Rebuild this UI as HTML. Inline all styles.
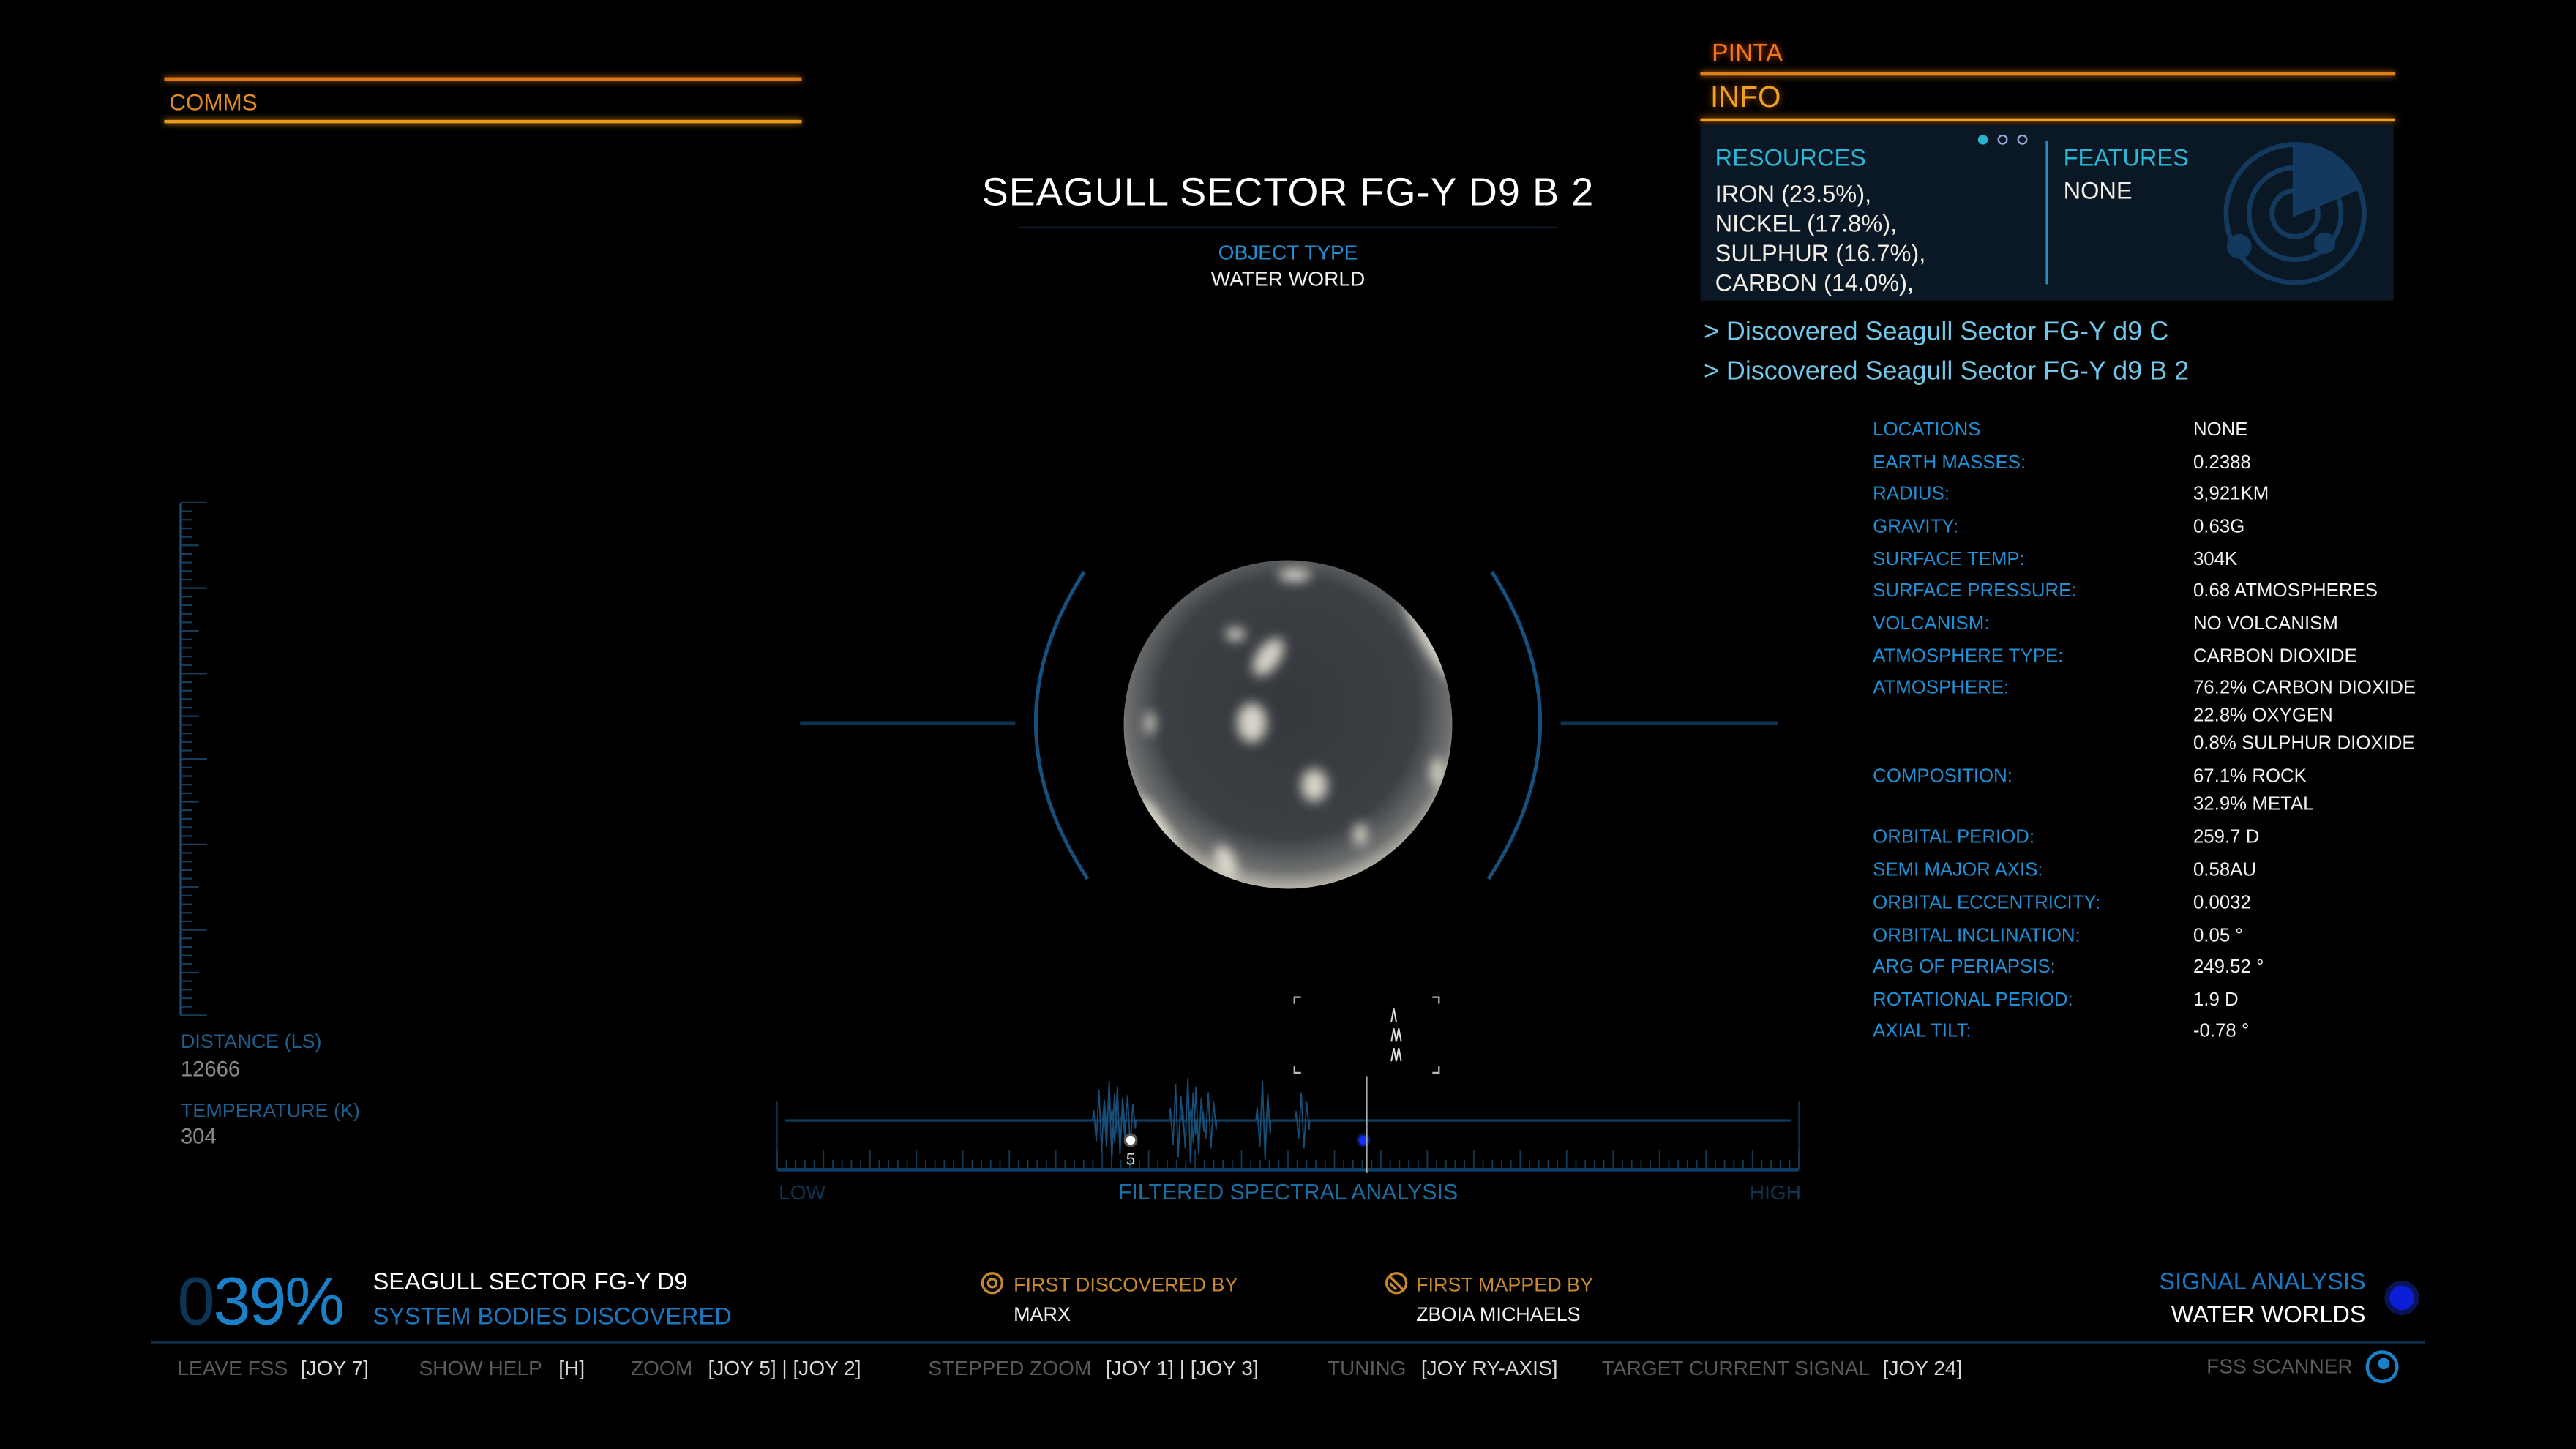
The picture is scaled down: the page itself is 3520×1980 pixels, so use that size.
<!DOCTYPE html>
<html><head><meta charset="utf-8">
<style>
html,body{margin:0;padding:0;background:#000;width:3520px;height:1980px;overflow:hidden}
#root{position:absolute;left:0;top:0;width:1568px;height:882px;transform:scale(2.2449);transform-origin:0 0;font-family:"Liberation Sans Narrow","Liberation Sans",sans-serif;color:#fff}
.t{position:absolute;white-space:nowrap;line-height:1}
.lbl{color:#1f8fd6;font-size:11.5px}
.val{color:#f2f2f2;font-size:11.5px}
.fk{color:#5a5a5a;font-size:12.5px}
.fv{color:#d8d8d8;font-size:12.5px}
</style></head><body>
<div id="root">
<!-- COMMS -->
<div>
<div style="position:absolute;left:100px;top:47px;width:388px;height:2px;background:#d9761a;box-shadow:0 0 4px #d9761a"></div>
<div class="t" style="left:103px;top:55px;font-size:14px;color:#e08a20">COMMS</div>
<div style="position:absolute;left:100px;top:73px;width:388px;height:2px;background:#e89a20;box-shadow:0 0 4px #e89a20"></div>
</div>
<!-- PINTA / INFO -->
<div class="t" style="left:1042px;top:25px;font-size:15px;color:#f07818;text-shadow:0 0 4px #c04000">PINTA</div>
<div style="position:absolute;left:1035px;top:44px;width:423px;height:2px;background:#e0801a;box-shadow:0 0 4px #e0801a"></div>
<div class="t" style="left:1041px;top:50px;font-size:18px;color:#f0a020;text-shadow:0 0 5px #a05000">INFO</div>
<div style="position:absolute;left:1035px;top:72px;width:423px;height:2px;background:#f0a020;box-shadow:0 0 5px #f08000"></div>
<div style="position:absolute;left:1035px;top:76px;width:422px;height:107px;background:#0a1724">
 <svg width="422" height="107" style="position:absolute;left:0;top:0">
  <circle cx="172" cy="9" r="3" fill="#2ab4d0"/>
  <circle cx="184" cy="9" r="2.6" fill="none" stroke="#9ad" stroke-width="1"/>
  <circle cx="196" cy="9" r="2.6" fill="none" stroke="#9ad" stroke-width="1"/>
  <line x1="211" y1="10" x2="211" y2="97" stroke="#2a8fbf" stroke-width="1.5"/>
  <g stroke="#133a5e" fill="none" stroke-width="3">
   <circle cx="362" cy="54" r="42"/>
   <circle cx="362" cy="54" r="28"/>
   <circle cx="362" cy="54" r="14"/>
   <path d="M362,54 L362,12 A42,42 0 0 1 401,38 Z" fill="#133a5e"/>
   <circle cx="328" cy="74" r="6" fill="#133a5e"/>
   <circle cx="380" cy="72" r="5" fill="#133a5e"/>
  </g>
 </svg>
 <div class="t" style="left:9px;top:14px;font-size:14.5px;color:#2ab8d6">RESOURCES</div>
 <div class="t" style="left:9px;top:34px;font-size:14.5px;line-height:18px;color:#f4f0e8">IRON (23.5%),<br>NICKEL (17.8%),<br>SULPHUR (16.7%),<br>CARBON (14.0%),</div>
 <div class="t" style="left:221px;top:14px;font-size:14.5px;color:#2ab8d6">FEATURES</div>
 <div class="t" style="left:221px;top:34px;font-size:14.5px;color:#f4f0e8">NONE</div>
</div>
<div class="t" style="left:1037px;top:195px;font-size:16px;color:#70c8ea">&gt; Discovered Seagull Sector FG-Y d9 C</div>
<div class="t" style="left:1037px;top:219px;font-size:16px;color:#70c8ea">&gt; Discovered Seagull Sector FG-Y d9 B 2</div>

<!-- properties -->
<div id="props"></div>

<!-- title -->
<div class="t" style="left:784px;top:106px;transform:translateX(-50%);font-size:24px;color:#fff;letter-spacing:0.5px">SEAGULL SECTOR FG-Y D9 B 2</div>
<div style="position:absolute;left:620px;top:138px;width:328px;height:1px;background:#0d2233"></div>
<div class="t" style="left:784px;top:148px;transform:translateX(-50%);font-size:12.5px;color:#1f8fd6">OBJECT TYPE</div>
<div class="t" style="left:784px;top:164px;transform:translateX(-50%);font-size:12.5px;color:#f2f2f2">WATER WORLD</div>

<!-- planet view -->
<svg width="1568" height="882" style="position:absolute;left:0;top:0">
 <defs>
  <radialGradient id="pg" cx="50%" cy="45%" r="55%">
   <stop offset="0" stop-color="#34373c"/><stop offset="0.72" stop-color="#3c4044"/><stop offset="0.9" stop-color="#6e7070"/><stop offset="1" stop-color="#b8b4a8"/>
  </radialGradient>
  <clipPath id="pc"><circle cx="784" cy="441" r="100"/></clipPath>
  <filter id="bl"><feGaussianBlur stdDeviation="3.5"/></filter>
 </defs>
 <line x1="487" y1="440" x2="618" y2="440" stroke="#0f3350" stroke-width="2"/>
 <line x1="950" y1="440" x2="1082" y2="440" stroke="#0f3350" stroke-width="2"/>
 <path d="M660,348 Q600,441 662,535" fill="none" stroke="#15507e" stroke-width="2.2"/>
 <path d="M908,348 Q968,441 906,535" fill="none" stroke="#15507e" stroke-width="2.2"/>
 <circle cx="784" cy="441" r="100" fill="url(#pg)"/>
 <g clip-path="url(#pc)" filter="url(#bl)" fill="#e8e4d8" opacity="0.9">
  <ellipse cx="788" cy="350" rx="10" ry="4"/>
  <ellipse cx="772" cy="400" rx="7" ry="13" transform="rotate(35 772 400)"/>
  <ellipse cx="752" cy="386" rx="6" ry="4"/>
  <ellipse cx="762" cy="440" rx="9" ry="12"/>
  <ellipse cx="746" cy="525" rx="6" ry="11" transform="rotate(-20 746 525)"/>
  <ellipse cx="726" cy="536" rx="8" ry="4"/>
  <ellipse cx="800" cy="478" rx="8" ry="10"/>
  <ellipse cx="828" cy="508" rx="4" ry="7"/>
  <ellipse cx="700" cy="440" rx="3" ry="7"/>
  <ellipse cx="870" cy="385" rx="7" ry="32" transform="rotate(-28 870 385)"/>
  <ellipse cx="705" cy="505" rx="5" ry="22" transform="rotate(-30 705 505)"/>
  <ellipse cx="875" cy="470" rx="4" ry="9"/>
 </g>
</svg>

<!-- left ruler -->
<svg width="40" height="320" style="position:absolute;left:105px;top:302px" id="ruler"></svg>
<div class="t" style="left:110px;top:628px;font-size:12px;color:#1d5f8f">DISTANCE (LS)</div>
<div class="t" style="left:110px;top:644px;font-size:13px;color:#8a8a8a">12666</div>
<div class="t" style="left:110px;top:670px;font-size:12px;color:#1d5f8f">TEMPERATURE (K)</div>
<div class="t" style="left:110px;top:685px;font-size:13px;color:#8a8a8a">304</div>

<!-- spectral -->
<svg id="spec" width="1568" height="882" style="position:absolute;left:0;top:0"></svg>
<div class="t" style="left:474px;top:720px;font-size:12.5px;color:#0f3552">LOW</div>
<div class="t" style="left:784px;top:719px;transform:translateX(-50%);font-size:13.5px;color:#1a6fa3">FILTERED SPECTRAL ANALYSIS</div>
<div class="t" style="left:1065px;top:720px;font-size:12.5px;color:#0f3552">HIGH</div>

<!-- bottom -->
<div class="t" style="left:108px;top:772px;font-size:41px;letter-spacing:-1px"><span style="color:#0c3454">0</span><span style="color:#1a80c8">39%</span></div>
<div class="t" style="left:227px;top:774px;font-size:14.5px;color:#fff">SEAGULL SECTOR FG-Y D9</div>
<div class="t" style="left:227px;top:795px;font-size:14.5px;color:#1a78c0">SYSTEM BODIES DISCOVERED</div>
<svg width="1568" height="882" style="position:absolute;left:0;top:0">
 <g fill="none" stroke="#c8892e" stroke-width="1.5"><circle cx="604" cy="781" r="6"/><circle cx="604" cy="781" r="2.5"/></g>
 <g fill="none" stroke="#c8892e" stroke-width="1.5"><circle cx="850" cy="781" r="6"/><path d="M846,777 L854,785 M846,781 L850,785"/></g>
 <circle cx="1462" cy="790" r="9" fill="#0b1fd8" stroke="#0a1455" stroke-width="3"/>
 <line x1="92" y1="817" x2="1476" y2="817" stroke="#0e2f48" stroke-width="1.5"/>
 <g><circle cx="1450" cy="832" r="9" fill="none" stroke="#1a80c8" stroke-width="2"/><circle cx="1451" cy="830" r="3.5" fill="#1a80c8"/></g>
</svg>
<div class="t" style="left:617px;top:776px;font-size:12px;color:#c8892e">FIRST DISCOVERED BY</div>
<div class="t" style="left:617px;top:794px;font-size:12px;color:#f2f2f2">MARX</div>
<div class="t" style="left:862px;top:776px;font-size:12px;color:#c8892e">FIRST MAPPED BY</div>
<div class="t" style="left:862px;top:794px;font-size:12px;color:#f2f2f2">ZBOIA MICHAELS</div>
<div class="t" style="right:128px;top:774px;font-size:14.5px;color:#1a78c0">SIGNAL ANALYSIS</div>
<div class="t" style="right:128px;top:794px;font-size:14.5px;color:#fff">WATER WORLDS</div>

<div>
<div class="t fk" style="left:108px;top:827px">LEAVE FSS</div><div class="t fv" style="left:183px;top:827px">[JOY 7]</div>
<div class="t fk" style="left:255px;top:827px">SHOW HELP</div><div class="t fv" style="left:340px;top:827px">[H]</div>
<div class="t fk" style="left:384px;top:827px">ZOOM</div><div class="t fv" style="left:431px;top:827px">[JOY 5] | [JOY 2]</div>
<div class="t fk" style="left:565px;top:827px">STEPPED ZOOM</div><div class="t fv" style="left:673px;top:827px">[JOY 1] | [JOY 3]</div>
<div class="t fk" style="left:808px;top:827px">TUNING</div><div class="t fv" style="left:865px;top:827px">[JOY RY-AXIS]</div>
<div class="t fk" style="left:975px;top:827px">TARGET CURRENT SIGNAL</div><div class="t fv" style="left:1146px;top:827px">[JOY 24]</div>
<div class="t fk" style="right:136px;top:826px">FSS SCANNER</div>
</div>
</div>
<script>
// body properties
var propLabels=["LOCATIONS","EARTH MASSES:","RADIUS:","GRAVITY:","SURFACE TEMP:","SURFACE PRESSURE:","VOLCANISM:","ATMOSPHERE TYPE:","ATMOSPHERE:","","","COMPOSITION:","","ORBITAL PERIOD:","SEMI MAJOR AXIS:","ORBITAL ECCENTRICITY:","ORBITAL INCLINATION:","ARG OF PERIAPSIS:","ROTATIONAL PERIOD:","AXIAL TILT:"];
var propValues=["NONE","0.2388","3,921KM","0.63G","304K","0.68 ATMOSPHERES","NO VOLCANISM","CARBON DIOXIDE","76.2% CARBON DIOXIDE","22.8% OXYGEN","0.8% SULPHUR DIOXIDE","67.1% ROCK","32.9% METAL","259.7 D","0.58AU","0.0032","0.05 °","249.52 °","1.9 D","-0.78 °"];
var propY=[262,282,301,321,341,360,380,400,419,436,453,473,490,510,530,550,570,589,609,628];
var props=document.getElementById('props');
for(var i=0;i<propLabels.length;i++){
 if(propLabels[i]){var l=document.createElement('div');l.className='t lbl';l.style.left='1140px';l.style.top=(propY[i]-5)+'px';l.textContent=propLabels[i];
 
 
 props.appendChild(l);}
 var v=document.createElement('div');v.className='t val';v.style.left='1335px';v.style.top=(propY[i]-5)+'px';v.textContent=propValues[i];
 
 
 props.appendChild(v);
}
// ruler
var NS='http://www.w3.org/2000/svg';
var ruler=document.getElementById('ruler');
var rl=document.createElementNS(NS,'line');
rl.setAttribute('x1',5);rl.setAttribute('y1',4);rl.setAttribute('x2',5);rl.setAttribute('y2',316);rl.setAttribute('stroke','#1b4a6a');rl.setAttribute('stroke-width','1.5');ruler.appendChild(rl);
for(var k=0;k<=60;k++){var y=4+k*5.2;var tk=document.createElementNS(NS,'line');var len=(k%10==0)?16:(k%5==0?11:7);
 tk.setAttribute('x1',5);tk.setAttribute('x2',5+len);tk.setAttribute('y1',y);tk.setAttribute('y2',y);tk.setAttribute('stroke','#163e5a');tk.setAttribute('stroke-width','1');ruler.appendChild(tk);}
</script>
<script>
// spectral data (0-100 frequency scale)
var signalFreq=[31.5,32.5,33.3,34.3,39.0,40.2,41.0,42.2,47.5,51.3];
var signalAmp=[22,28,24,18,26,30,24,20,28,20];
var planetFreq=34.6;
var targetFreq=57.7;
var planetLabel="5";
var majorTickEvery=5;
var tickCount=110;
var spec=document.getElementById('spec');
var X0=473,X1=1095,BASE=682,TB=712;
function xs(f){return X0+(X1-X0)*f/100;}
function mk(tag,attrs){var e=document.createElementNS(NS,tag);for(var a in attrs)e.setAttribute(a,attrs[a]);spec.appendChild(e);return e;}
var e;
e=mk('line',{x1:478,y1:BASE,x2:1090,y2:BASE,stroke:'#0f3a58','stroke-width':1.5});


e=mk('line',{x1:X0,y1:TB,x2:X1,y2:TB,stroke:'#11406a','stroke-width':2});


mk('line',{x1:X0,y1:670,x2:X0,y2:TB,stroke:'#0b2a44','stroke-width':1});
mk('line',{x1:X1,y1:670,x2:X1,y2:TB,stroke:'#0b2a44','stroke-width':1});
for(var k=0;k<=tickCount;k++){var x=xs(k*100/tickCount);var h=(k%majorTickEvery==0)?12:6;
 mk('line',{x1:x,y1:TB-h,x2:x,y2:TB,stroke:'#0f3a58','stroke-width':0.8});}
for(var s=0;s<signalFreq.length;s++){
 var cx=xs(signalFreq[s]),a=signalAmp[s],d='M'+(cx-4)+','+BASE;
 for(var j=0;j<6;j++){var sign=(j%2?1:-1);var amp=a*(1-Math.abs(j-2.5)/3.5);d+=' L'+(cx-4+j*1.6+0.8)+','+(BASE+sign*amp);}
 d+=' L'+(cx+5)+','+BASE;
 e=mk('path',{d:d,fill:'none',stroke:'#164e78','stroke-width':0.8});
 
 
}
var px=xs(planetFreq);
e=mk('circle',{cx:px,cy:694,r:3.5,fill:'#fff',stroke:'#555','stroke-width':1.5});


e=mk('text',{x:px,y:709,fill:'#ddd','font-size':10,'text-anchor':'middle','font-family':'Liberation Sans Narrow, Liberation Sans, sans-serif'});
e.textContent=planetLabel;


var tx=xs(targetFreq);
e=mk('circle',{cx:tx-2,cy:694,r:3.5,fill:'#1030ff',stroke:'#0a1660','stroke-width':1.5});


e=mk('line',{x1:tx,y1:655,x2:tx,y2:714,stroke:'#aaa','stroke-width':1});


var bx=tx-44,bw=88,by=607,bh=46,c=4;
var br='M'+bx+','+(by+c)+' V'+by+' H'+(bx+c)+' M'+(bx+bw-c)+','+by+' H'+(bx+bw)+' V'+(by+c)+' M'+bx+','+(by+bh-c)+' V'+(by+bh)+' H'+(bx+c)+' M'+(bx+bw-c)+','+(by+bh)+' H'+(bx+bw)+' V'+(by+bh-c);
e=mk('path',{d:br,fill:'none',stroke:'#bbb','stroke-width':1});


var chev='M'+(tx+15)+',622 L'+(tx+16.5)+',614 L'+(tx+18)+',622 M'+(tx+18)+',634 L'+(tx+19.5)+',626 L'+(tx+21)+',634 M'+(tx+15)+',634 L'+(tx+16.5)+',626 L'+(tx+18)+',634 M'+(tx+15)+',646 L'+(tx+16.5)+',638 L'+(tx+18)+',646 M'+(tx+18)+',646 L'+(tx+19.5)+',638 L'+(tx+21)+',646';
e=mk('path',{d:chev,fill:'none',stroke:'#ddd','stroke-width':0.9});


</script>
</body></html>
